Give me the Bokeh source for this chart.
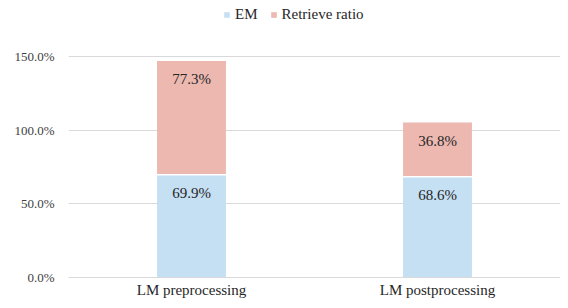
from bokeh.plotting import figure
from bokeh.models import ColumnDataSource, FactorRange, Range1d, FixedTicker, PrintfTickFormatter, Legend, LegendItem
from bokeh.core.properties import value
from bokeh.embed import file_html
from bokeh.resources import INLINE

categories = ["LM preprocessing", "LM postprocessing"]
em = [69.9, 68.6]
retrieve = [77.3, 36.8]
series = ["EM", "Retrieve ratio"]
colors = ["#c5dff3", "#ecb8b0"]
y_ticks = [0, 50, 100, 150]

FONT = "Liberation Serif"

em_top = [a for a in em]
ret_top = [a + b for a, b in zip(em, retrieve)]
src = ColumnDataSource(dict(
    cat=categories, em=em, retrieve=retrieve,
    em_top=em_top, ret_top=ret_top,
    em_lbl=[f"{v:.1f}%" for v in em],
    ret_lbl=[f"{v:.1f}%" for v in retrieve],
))

p = figure(width=560, height=300, output_backend="svg", toolbar_location=None,
           x_range=FactorRange(*categories, range_padding=0),
           y_range=Range1d(0, 188.4),
           min_border_left=68, min_border_right=0, min_border_top=0, min_border_bottom=23)
p.outline_line_color = None
p.background_fill_color = "white"
p.border_fill_color = "white"

rs = p.vbar_stack(["em", "retrieve"], x="cat", width=0.28, source=src,
                  color=colors, line_color=None)

# thin white separator between the stacked segments
p.vbar(x="cat", bottom="em_top", top="em_top", width=0.28, source=src,
       fill_alpha=0, line_color="white", line_width=1.5)

p.text(x="cat", y="em_top", text="em_lbl", source=src, y_offset=18,
       text_align="center", text_baseline="middle", text_font=value(FONT),
       text_font_size="15px", text_color="#262626")
p.text(x="cat", y="ret_top", text="ret_lbl", source=src, y_offset=18,
       text_align="center", text_baseline="middle", text_font=value(FONT),
       text_font_size="15px", text_color="#262626")

for ax in (p.xaxis, p.yaxis):
    ax.major_tick_out = 0
    ax.major_tick_in = 0
    ax.minor_tick_out = 0
    ax.minor_tick_in = 0
    ax.major_tick_line_color = None
    ax.minor_tick_line_color = None

p.yaxis.ticker = FixedTicker(ticks=y_ticks)
p.yaxis.formatter = PrintfTickFormatter(format="%.1f%%")
p.yaxis.axis_line_color = None
p.yaxis.major_label_standoff = 14
p.yaxis.major_label_text_font = FONT
p.yaxis.major_label_text_font_size = "13px"
p.yaxis.major_label_text_color = "#404040"

p.xaxis.axis_line_color = "#d9d9d9"
p.xaxis.major_label_standoff = 4
p.xaxis.major_label_text_font = FONT
p.xaxis.major_label_text_font_size = "15px"
p.xaxis.major_label_text_color = "#262626"

p.xgrid.grid_line_color = None
p.ygrid.grid_line_color = "#d9d9d9"
p.ygrid.ticker = FixedTicker(ticks=y_ticks)

legend = Legend(items=[LegendItem(label=series[i], renderers=[rs[i]]) for i in range(2)],
                orientation="horizontal", location=(155, 254),
                margin=0, padding=0, spacing=12, label_standoff=5,
                glyph_width=7, glyph_height=7, label_height=15,
                label_text_font=FONT, label_text_font_size="15px",
                label_text_color="#262626",
                border_line_color=None, background_fill_alpha=0)
p.add_layout(legend)

open("out.html", "w").write(file_html(p, INLINE))
